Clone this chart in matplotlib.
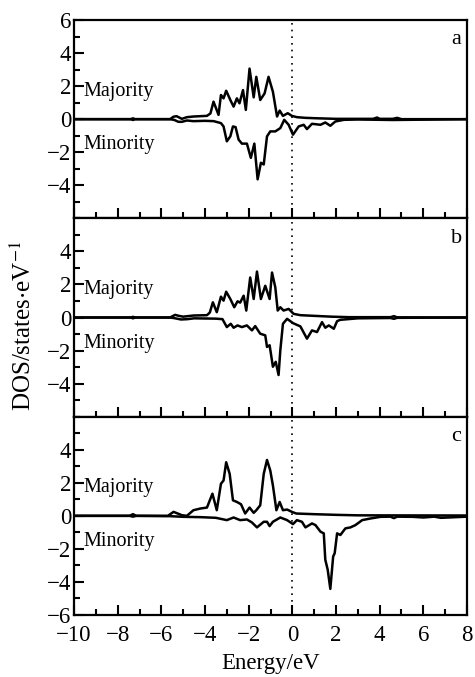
import matplotlib
matplotlib.use("Agg")
import matplotlib.pyplot as plt
from matplotlib.ticker import MultipleLocator

plt.rcParams['font.family'] = ['Liberation Serif', 'DejaVu Serif']
plt.rcParams['mathtext.fontset'] = 'stix'

# ---------------- data ----------------
panel_labels = ['a', 'b', 'c']

# panel a
a_maj_E = [-10, -7.4, -7.3, -7.2, -5.6, -5.44, -5.3, -5.06, -4.83, -4.53, -4.22, -3.91, -3.75, -3.61, -3.38, -3.27, -3.15,
           -3.03, -2.84, -2.69, -2.54, -2.42, -2.26, -2.13, -1.96, -1.77, -1.65, -1.47, -1.27, -1.09,
           -0.89, -0.70, -0.58, -0.43, -0.21, -0.02, 0.21, 0.6, 1.2, 2.0, 3.7, 3.88, 4.0, 4.6, 4.8, 5.0, 8]
a_maj_V = [0, 0, 0.05, 0, 0, 0.15, 0.18, 0.02, 0.12, 0.16, 0.18, 0.2, 0.35, 1.06, 0.26, 1.46, 1.26,
           1.72, 1.16, 0.76, 1.26, 0.96, 1.76, 0.56, 3.06, 1.32, 2.56, 1.16, 1.56, 2.56,
           1.66, 0.16, 0.52, 0.2, 0.36, 0.2, 0.12, 0.08, 0.05, 0.02, 0.02, 0.1, 0.02, 0.02, 0.08, 0.0, 0]
a_min_E = [-10, -7.4, -7.3, -7.2, -5.6, -5.4, -5.22, -5.06, -4.83, -4.53, -4.0, -3.6, -3.27, -3.15, -3.0, -2.84,
           -2.72, -2.60, -2.46, -2.31, -2.08, -1.90, -1.74, -1.59, -1.44, -1.31, -1.16, -1.01, -0.78, -0.55,
           -0.37, -0.17, 0.03, 0.29, 0.52, 0.67, 0.90, 1.29, 1.51, 1.74, 1.97, 2.36, 3.0, 4.6, 8]
a_min_V = [0, 0, -0.05, 0, 0, -0.05, -0.16, -0.16, -0.08, -0.12, -0.1, -0.12, -0.24, -0.44, -1.34, -1.04,
           -0.44, -0.48, -1.24, -1.48, -1.48, -2.34, -1.48, -3.64, -2.64, -2.74, -1.04, -0.74, -0.74, -0.54,
           -0.04, -0.34, -0.94, -0.44, -0.34, -0.6, -0.28, -0.34, -0.2, -0.4, -0.14, -0.04, -0.02, -0.05, 0]

# panel b
b_maj_E = [-10, -7.4, -7.3, -7.2, -5.6, -5.37, -5.2, -5.0, -4.53, -3.91, -3.78, -3.64, -3.46, -3.27, -3.15, -3.03,
           -2.84, -2.66, -2.51, -2.39, -2.23, -2.11, -1.93, -1.77, -1.62, -1.44, -1.24, -1.04, -0.93,
           -0.78, -0.67, -0.55, -0.40, -0.17, 0.06, 0.37, 1.0, 1.8, 2.6, 4.5, 4.65, 4.8, 8]
b_maj_V = [0, 0, 0.04, 0, 0, 0.16, 0.1, 0.05, 0.12, 0.14, 0.3, 0.92, 0.32, 1.26, 1.02, 1.56,
           1.12, 0.62, 0.98, 0.9, 1.32, 0.42, 2.42, 1.12, 2.78, 1.12, 1.92, 1.12, 2.72,
           1.82, 0.42, 0.62, 0.42, 0.52, 0.22, 0.14, 0.1, 0.05, 0.02, 0.02, 0.08, 0.01, 0]
b_min_E = [-10, -7.4, -7.3, -7.2, -5.6, -5.4, -5.1, -4.8, -4.5, -3.5, -3.2, -3.0, -2.82, -2.69, -2.51, -2.31,
           -2.08, -1.85, -1.70, -1.47, -1.24, -1.16, -1.04, -0.89, -0.76, -0.63, -0.55, -0.43, -0.24,
           0.03, 0.37, 0.67, 0.90, 1.13, 1.36, 1.51, 1.67, 1.90, 2.05, 2.20, 3.0, 4.5, 4.65, 4.8, 8]
b_min_V = [0, 0, -0.05, 0, 0, -0.04, -0.12, -0.1, -0.05, -0.07, -0.1, -0.58, -0.38, -0.62, -0.48, -0.58,
           -0.48, -0.78, -0.52, -0.98, -1.08, -1.78, -1.68, -2.98, -2.68, -3.48, -1.98, -0.38, -0.08,
           -0.34, -0.54, -1.28, -0.78, -0.88, -0.28, -0.62, -0.48, -0.68, -0.22, -0.14, -0.05, -0.03, -0.08, -0.02, 0]

# panel c
c_maj_E = [-10, -7.45, -7.3, -7.15, -5.7, -5.44, -5.06, -4.83, -4.53, -4.22, -3.91, -3.66, -3.46, -3.27, -3.15,
           -3.03, -2.87, -2.72, -2.54, -2.35, -2.16, -1.96, -1.77, -1.65, -1.47, -1.31, -1.16, -1.01, -0.89,
           -0.73, -0.58, -0.43, -0.24, -0.02, 0.18, 1.0, 2.0, 3.0, 8]
c_maj_V = [0, 0, 0.1, 0, 0, 0.24, 0.04, 0.0, 0.34, 0.44, 0.5, 1.34, 0.34, 1.94, 2.14,
           3.24, 2.54, 0.94, 0.84, 0.7, 0.14, 0.5, 0.18, 0.34, 0.64, 2.54, 3.38, 2.74, 1.84,
           0.34, 0.84, 0.34, 0.38, 0.24, 0.14, 0.1, 0.06, 0.03, 0.02]
c_min_E = [-10, -7.45, -7.3, -7.15, -5.6, -5.0, -4.2, -3.5, -3.0, -2.69, -2.39, -2.08, -1.85, -1.62, -1.31,
           -1.16, -1.04, -0.89, -0.55, -0.24, 0.03, 0.21, 0.44, 0.60, 0.90, 1.06, 1.29, 1.44, 1.51, 1.62,
           1.74, 1.87, 1.94, 2.05, 2.20, 2.43, 2.66, 2.89, 3.20, 3.58, 4.04, 4.5, 4.65, 4.8, 5.5, 6.0, 6.5, 6.8, 8]
c_min_V = [0, 0, -0.05, 0, -0.02, -0.06, -0.08, -0.12, -0.26, -0.1, -0.26, -0.22, -0.4, -0.7, -0.36,
           -0.36, -0.62, -0.36, -0.1, -0.26, -0.5, -0.26, -0.36, -0.7, -0.46, -0.56, -0.96, -1.06, -2.66, -3.26,
           -4.42, -2.46, -2.26, -1.06, -1.16, -0.76, -0.7, -0.56, -0.26, -0.16, -0.06, -0.05, -0.14, -0.05, -0.06, -0.1, -0.05, -0.12, -0.05]

series = [
    (a_maj_E, a_maj_V, a_min_E, a_min_V),
    (b_maj_E, b_maj_V, b_min_E, b_min_V),
    (c_maj_E, c_maj_V, c_min_E, c_min_V),
]

x_ticks = [-10, -8, -6, -4, -2, 0, 2, 4, 6, 8]
y_ticks_by_panel = [[-4, -2, 0, 2, 4, 6], [-4, -2, 0, 2, 4], [-6, -4, -2, 0, 2, 4]]

# ---------------- figure ----------------
fig = plt.figure(figsize=(4.75, 6.77), dpi=100)
left, right = 74 / 475, 467 / 475
top_px, bot_px = 20, 615
h = (bot_px - top_px) / 3
axes = []
for i in range(3):
    y0 = 1 - (top_px + (i + 1) * h) / 677
    ax = fig.add_axes([left, y0, right - left, h / 677])
    axes.append(ax)

fs = 16.5
for i, ax in enumerate(axes):
    maj_E, maj_V, min_E, min_V = series[i]
    ax.plot(maj_E, maj_V, color='black', lw=1.8, solid_joinstyle='round')
    ax.plot(min_E, min_V, color='black', lw=1.8, solid_joinstyle='round')
    ax.axvline(0, color='black', lw=1.2, ls=(0, (1, 3)))
    ax.set_xlim(-10, 8)
    ax.set_ylim(-6, 6)
    ax.set_yticks(y_ticks_by_panel[i])
    ax.set_yticklabels([f"{t}".replace('-', '\u2212') for t in y_ticks_by_panel[i]])
    ax.yaxis.set_minor_locator(MultipleLocator(1))
    ax.set_xticks(x_ticks)
    ax.xaxis.set_minor_locator(MultipleLocator(1))
    ax.tick_params(which='both', direction='in', top=False, right=False, labelsize=fs, width=1.5)
    ax.tick_params(axis='y', pad=2)
    ax.tick_params(axis='x', pad=7)
    ax.tick_params(which='major', length=7)
    ax.tick_params(which='minor', length=4)
    for s in ax.spines.values():
        s.set_linewidth(1.6)
    if i < 2:
        ax.tick_params(axis='x', labelbottom=False)
    else:
        ax.set_xticklabels([f"{t}".replace('-', '\u2212') for t in x_ticks])
    ax.text(-9.55, 1.7, 'Majority', fontsize=14.5, ha='left', va='center')
    ax.text(-9.55, -1.55, 'Minority', fontsize=14.5, ha='left', va='center')
    ax.text(7.5, 4.8, panel_labels[i], fontsize=16, ha='center', va='center')

axes[2].set_xlabel('Energy/eV', fontsize=fs, labelpad=5)
fig.text(23 / 475, 1 - 326 / 677, r'DOS/states$\cdot$eV$^{-1}$', rotation=90, fontsize=18,
         ha='center', va='center')

fig.savefig('out.png', dpi=100)
